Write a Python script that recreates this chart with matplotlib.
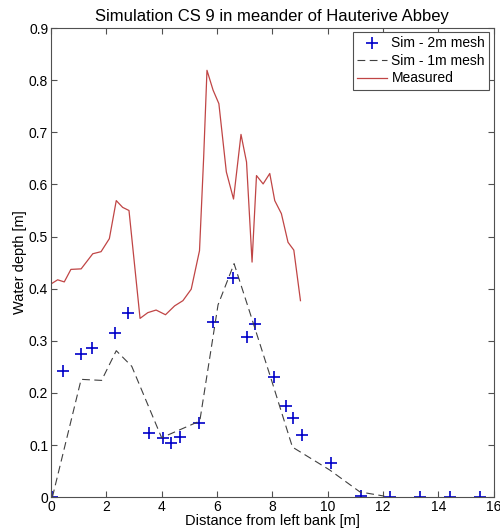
import matplotlib
matplotlib.use("Agg")
import matplotlib.pyplot as plt
import numpy as np

plt.rcParams['font.family'] = ['Liberation Sans', 'DejaVu Sans']

# Sim - 2m mesh (crosses)
x_2m = [0.05, 0.42, 1.09, 1.49, 2.33, 2.80, 3.53, 4.04, 4.35, 4.68, 5.35, 5.86,
        6.58, 7.07, 7.37, 8.05, 8.51, 8.75, 9.06, 10.12, 11.20, 12.26, 13.34,
        14.43, 15.52]
y_2m = [0.0, 0.242, 0.274, 0.287, 0.315, 0.354, 0.124, 0.113, 0.103, 0.116,
        0.142, 0.337, 0.420, 0.308, 0.332, 0.231, 0.175, 0.151, 0.119, 0.065,
        0.002, 0.0, 0.0, 0.0, 0.0]

# Sim - 1m mesh (dashed)
x_1m = [0.05, 1.09, 1.83, 2.36, 2.92, 4.00, 5.38, 6.04, 6.62, 7.18, 7.97,
        8.73, 10.08, 11.17, 12.05]
y_1m = [0.0, 0.226, 0.224, 0.281, 0.251, 0.114, 0.146, 0.369, 0.448, 0.356,
        0.225, 0.096, 0.052, 0.010, 0.002]

# Measured
x_meas = [0.0, 0.24, 0.48, 0.72, 1.09, 1.51, 1.81, 2.11, 2.36, 2.59, 2.82,
          3.22, 3.50, 3.80, 4.14, 4.47, 4.77, 5.07, 5.37, 5.52, 5.64, 5.86,
          6.07, 6.34, 6.60, 6.87, 7.07, 7.27, 7.43, 7.67, 7.91, 8.09, 8.33,
          8.57, 8.78, 9.02]
y_meas = [0.409, 0.417, 0.413, 0.437, 0.438, 0.467, 0.471, 0.496, 0.569,
          0.556, 0.550, 0.343, 0.354, 0.359, 0.350, 0.367, 0.377, 0.399,
          0.473, 0.652, 0.819, 0.781, 0.755, 0.624, 0.572, 0.696, 0.643,
          0.451, 0.617, 0.601, 0.621, 0.569, 0.544, 0.489, 0.474, 0.377]

xticks = [0, 2, 4, 6, 8, 10, 12, 14, 16]
yticks = [0, 0.1, 0.2, 0.3, 0.4, 0.5, 0.6, 0.7, 0.8, 0.9]
ytick_labels = ['0', '0.1', '0.2', '0.3', '0.4', '0.5', '0.6', '0.7', '0.8', '0.9']

fig = plt.figure(figsize=(5.0, 5.3), dpi=100)
ax = fig.add_axes([0.102, 0.062, 0.885, 0.885])

ax.plot(x_2m, y_2m, linestyle='none', marker='+', markersize=9,
        markeredgewidth=1.2, color='#0000c8', label='Sim - 2m mesh')
ax.plot(x_1m, y_1m, linestyle=(0, (7, 4)), linewidth=0.8, color='#404040',
        label='Sim - 1m mesh')
ax.plot(x_meas, y_meas, linestyle='-', linewidth=0.9, color='#c04545',
        label='Measured')

ax.set_xlim(0, 16)
ax.set_ylim(0, 0.9)
ax.set_xticks(xticks)
ax.set_xticklabels([str(t) for t in xticks])
ax.set_yticks(yticks)
ax.set_yticklabels(ytick_labels)
ax.tick_params(direction='in', top=True, right=True, length=4,
               labelsize=10, pad=2, color='#505050')
for s in ax.spines.values():
    s.set_color('#505050')
    s.set_linewidth(0.8)

ax.set_title('Simulation CS 9 in meander of Hauterive Abbey', fontsize=12, pad=5)
ax.set_xlabel('Distance from left bank [m]', fontsize=10.5, labelpad=0)
ax.set_ylabel('Water depth [m]', fontsize=10.5, labelpad=1)

leg = ax.legend(loc='upper right', fontsize=10, fancybox=False, framealpha=1,
                edgecolor='#505050', borderpad=0.3, handlelength=2.2,
                handletextpad=0.3, labelspacing=0.25, borderaxespad=0.3)
leg.get_frame().set_linewidth(0.8)

fig.savefig('out.png', dpi=100)
